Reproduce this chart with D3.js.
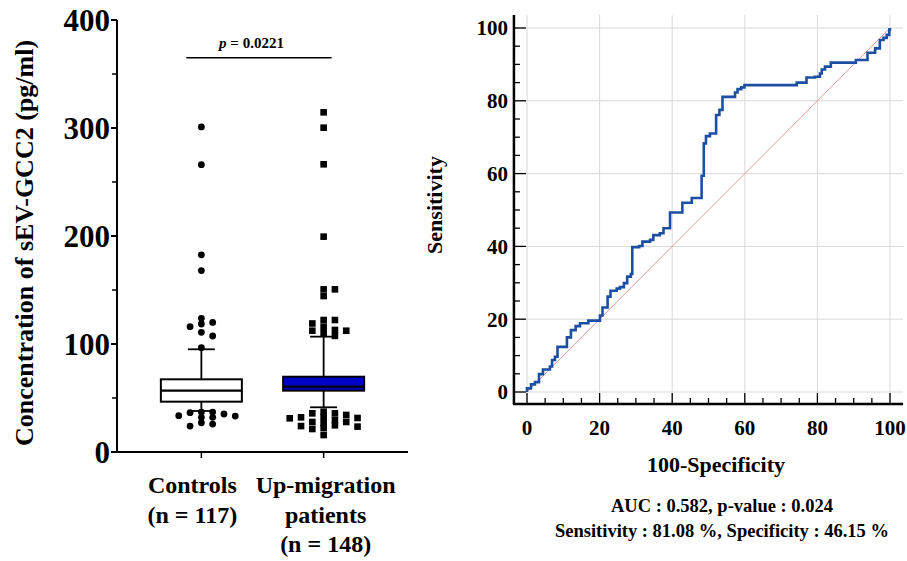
<!DOCTYPE html>
<html><head><meta charset="utf-8">
<script src="https://cdn.jsdelivr.net/npm/d3@7"></script>
<style>
html,body{margin:0;padding:0;background:#fff;}
svg text{font-family:"Liberation Serif","Times New Roman",serif;font-weight:bold;fill:#000;}
</style></head>
<body>
<svg id="chart" width="907" height="561"></svg>
<script>
// ---------- Box plot data ----------
const categories = ["Controls", "Up-migration patients"];
const categoryLines = [["Controls", "(n = 117)"], ["Up-migration", "patients", "(n = 148)"]];
const q1 = [46.6, 56.8];
const medians = [56.8, 60.5];
const q3 = [67.3, 69.7];
const whiskerLow = [38.0, 41.4];
const whiskerHigh = [95.1, 106.8];
const outliersControls = [301, 266, 182.6, 168, 123.8, 120, 118.5, 116, 110.8, 107.4, 96.6,
  37, 37, 36.4, 35.2, 33.6, 33.3, 32.1, 32.1, 27.1, 25.9, 24];
const outliersUp = [314.5, 300.3, 266.4, 199.4, 150.6, 150.6, 144.4, 122.2, 122.2, 119, 116, 113, 112.3, 112.3, 110, 107.5,
  37.3, 35.8, 35.8, 34.3, 32.4, 32.1, 31.5, 31.2, 29.6, 27.8, 27.8, 26.9, 24.7, 24, 23.5, 22.2, 21.3, 15.7];
const boxTicks = [0, 100, 200, 300, 400];
const boxMinorTicks = [50, 150, 250, 350];
const pText = "0.0221";

// ---------- ROC data ----------
const rocX = [0, 0, 1.1, 2.2, 3.3, 4.4, 6.3, 6.9, 7.7, 8.4, 11.0, 12.1, 13.4, 14.6, 16.9, 20.1, 20.8, 22.2, 23.0, 24.7, 25.6, 26.7, 27.6, 28.6,
  29.0, 30.9, 31.8, 33.9, 34.8, 36.6, 37.6, 39.4, 42.8, 45.4, 48.1, 48.7, 49.3, 50.4, 52.1, 53.0, 53.85, 57.3, 58.0, 59.0, 59.9,
  74.3, 77.0, 79.3, 80.7, 81.2, 82.1, 83.7, 90.6, 93.8, 95.9, 97.2, 98.2, 99.1, 99.8, 100];
const rocY = [0, 1.0, 2.1, 2.7, 4.9, 6.2, 7.0, 8.8, 9.7, 12.4, 15.0, 17.0, 18.1, 18.9, 19.6, 21.0, 23.2, 26.2, 27.8, 28.4, 28.8, 29.9, 31.7, 32.4,
  39.8, 40.1, 41.3, 41.8, 43.1, 43.6, 45.0, 49.3, 52.0, 53.3, 59.4, 68.3, 70.3, 71.0, 76.1, 77.5, 81.08, 82.3, 83.2, 83.7, 84.3,
  85.0, 86.4, 86.6, 87.5, 88.6, 89.4, 90.5, 91.2, 93.2, 94.4, 96.7, 97.3, 98.1, 99.6, 100];
const rocTicks = [0, 20, 40, 60, 80, 100];
const rocMinorTicks = d3.range(0, 101, 5);
const statsLines = ["AUC : 0.582, p-value : 0.024", "Sensitivity : 81.08 %, Specificity : 46.15 %"];

const svg = d3.select("#chart");

// =============== LEFT: box plot ===============
const yB = d3.scaleLinear().domain([0, 400]).range([452, 20]);
const xB = d3.scalePoint().domain(categories).range([117, 408]).padding(0.69);
const L = svg.append("g");

// y axis
L.append("line").attr("x1", 117).attr("x2", 117).attr("y1", yB(400)).attr("y2", yB(0))
  .attr("stroke", "#000").attr("stroke-width", 2);
L.selectAll(".ymaj").data(boxTicks).join("line")
  .attr("x1", 111).attr("x2", 117).attr("y1", d => yB(d)).attr("y2", d => yB(d))
  .attr("stroke", "#000").attr("stroke-width", 2);
L.selectAll(".ymin").data(boxMinorTicks).join("line")
  .attr("x1", 112).attr("x2", 117).attr("y1", d => yB(d)).attr("y2", d => yB(d))
  .attr("stroke", "#000").attr("stroke-width", 1.5);
L.selectAll(".ylab").data(boxTicks).join("text")
  .attr("x", 110).attr("y", d => yB(d)).attr("dy", "0.35em")
  .attr("text-anchor", "end").style("font-size", "31px").text(d => d);
// y title
L.append("text").attr("transform", `translate(33,243) rotate(-90)`)
  .attr("text-anchor", "middle").style("font-size", "26px")
  .text("Concentration of sEV-GCC2 (pg/ml)");

// x axis
L.append("line").attr("x1", 116).attr("x2", 408).attr("y1", yB(0)).attr("y2", yB(0))
  .attr("stroke", "#000").attr("stroke-width", 2);
L.selectAll(".xt").data(categories).join("line")
  .attr("x1", d => xB(d)).attr("x2", d => xB(d)).attr("y1", yB(0)).attr("y2", yB(0) + 6)
  .attr("stroke", "#000").attr("stroke-width", 1.5);
const catOffset = [-9, 2];
categories.forEach((c, i) => {
  const t = L.append("text").attr("text-anchor", "middle").style("font-size", "24px");
  categoryLines[i].forEach((ln, j) => {
    t.append("tspan").attr("x", xB(c) + catOffset[i]).attr("y", 493 + j * 29.5).text(ln);
  });
});

// boxes
const boxW = 81, capW = 27;
const fills = ["#ffffff", "#0000c8"];
categories.forEach((c, i) => {
  const cx = xB(c);
  const g = L.append("g");
  g.append("line").attr("x1", cx).attr("x2", cx).attr("y1", yB(whiskerHigh[i])).attr("y2", yB(q3[i]))
    .attr("stroke", "#000").attr("stroke-width", 1.8);
  g.append("line").attr("x1", cx).attr("x2", cx).attr("y1", yB(q1[i])).attr("y2", yB(whiskerLow[i]))
    .attr("stroke", "#000").attr("stroke-width", 1.8);
  [whiskerHigh[i], whiskerLow[i]].forEach(v => {
    g.append("line").attr("x1", cx - capW / 2).attr("x2", cx + capW / 2).attr("y1", yB(v)).attr("y2", yB(v))
      .attr("stroke", "#000").attr("stroke-width", 1.8);
  });
  g.append("rect").attr("x", cx - boxW / 2).attr("width", boxW)
    .attr("y", yB(q3[i])).attr("height", yB(q1[i]) - yB(q3[i]))
    .attr("fill", fills[i]).attr("stroke", "#000").attr("stroke-width", 2);
  g.append("line").attr("x1", cx - boxW / 2).attr("x2", cx + boxW / 2).attr("y1", yB(medians[i])).attr("y2", yB(medians[i]))
    .attr("stroke", "#000").attr("stroke-width", 2.2);
});

// swarm layout for outliers
function swarm(values, cx) {
  const step = 5.65, tolX = 10, tolY = 5;
  const placed = [];
  values.slice().sort((a, b) => b - a).forEach(v => {
    const py = yB(v);
    for (let k = 0; k < 40; k++) {
      const off = k === 0 ? 0 : (k % 2 === 1 ? 1 : -1) * Math.ceil(k / 2) * step;
      const ok = placed.every(p => !(Math.abs(p.x - (cx + off)) < tolX && Math.abs(p.y - py) < tolY));
      if (ok) { placed.push({ x: cx + off, y: py }); break; }
    }
  });
  return placed;
}
const ptsC = swarm(outliersControls, xB(categories[0]));
L.selectAll(".oc").data(ptsC).join("circle")
  .attr("cx", d => d.x).attr("cy", d => d.y).attr("r", 3.4).attr("fill", "#000");
const ptsU = swarm(outliersUp, xB(categories[1]));
L.selectAll(".ou").data(ptsU).join("rect")
  .attr("x", d => d.x - 3.3).attr("y", d => d.y - 3.3).attr("width", 6.6).attr("height", 6.6).attr("fill", "#000");

// significance bracket
L.append("line").attr("x1", xB(categories[0]) - 15).attr("x2", xB(categories[1]) + 8)
  .attr("y1", yB(365)).attr("y2", yB(365)).attr("stroke", "#000").attr("stroke-width", 1.5);
const pt = L.append("text").attr("x", (xB(categories[0]) + xB(categories[1])) / 2 - 11).attr("y", yB(374))
  .attr("text-anchor", "middle").style("font-size", "15px");
pt.append("tspan").style("font-style", "italic").text("p");
pt.append("tspan").text(" = " + pText);

// =============== RIGHT: ROC ===============
const xR = d3.scaleLinear().domain([0, 100]).range([527, 890]);
const yR = d3.scaleLinear().domain([0, 100]).range([392, 28]);
const xLo = -3.6, xHi = 103.6, yLo = -3.3, yHi = 103.6;
const R = svg.append("g");

// grid
R.selectAll(".gx").data(rocTicks).join("line")
  .attr("x1", d => xR(d)).attr("x2", d => xR(d)).attr("y1", yR(yHi)).attr("y2", yR(yLo))
  .attr("stroke", "#d9d9d9").attr("stroke-width", 1);
R.selectAll(".gy").data(rocTicks).join("line")
  .attr("x1", xR(xLo)).attr("x2", xR(xHi)).attr("y1", d => yR(d)).attr("y2", d => yR(d))
  .attr("stroke", "#d9d9d9").attr("stroke-width", 1);

// diagonal
R.append("line").attr("x1", xR(0)).attr("y1", yR(0)).attr("x2", xR(100)).attr("y2", yR(100))
  .attr("stroke", "#e79a9a").attr("stroke-width", 1);

// ROC curve
const rocPts = rocX.map((x, i) => [x, rocY[i]]);
R.append("path").datum(rocPts)
  .attr("d", d3.line().x(d => xR(d[0])).y(d => yR(d[1])).curve(d3.curveStepAfter))
  .attr("fill", "none").attr("stroke", "#1a4fa3").attr("stroke-width", 2.6).attr("stroke-linejoin", "miter");

// axes
R.append("line").attr("x1", xR(xLo)).attr("x2", xR(xLo)).attr("y1", yR(yHi)).attr("y2", yR(yLo))
  .attr("stroke", "#000").attr("stroke-width", 2.5);
R.append("line").attr("x1", xR(xLo) - 1).attr("x2", xR(xHi)).attr("y1", yR(yLo)).attr("y2", yR(yLo))
  .attr("stroke", "#000").attr("stroke-width", 2.5);
R.selectAll(".mx").data(rocMinorTicks).join("line")
  .attr("x1", d => xR(d)).attr("x2", d => xR(d))
  .attr("y1", yR(yLo)).attr("y2", d => yR(yLo) - (d % 20 === 0 ? 11 : 6))
  .attr("stroke", "#000").attr("stroke-width", 1.3);
R.selectAll(".my").data(rocMinorTicks).join("line")
  .attr("x1", xR(xLo)).attr("x2", d => xR(xLo) + (d % 20 === 0 ? 12 : 6))
  .attr("y1", d => yR(d)).attr("y2", d => yR(d))
  .attr("stroke", "#000").attr("stroke-width", 1.3);
R.selectAll(".lx").data(rocTicks).join("text")
  .attr("x", d => xR(d)).attr("y", 435).attr("text-anchor", "middle").style("font-size", "21px").text(d => d);
R.selectAll(".ly").data(rocTicks).join("text")
  .attr("x", 508).attr("y", d => yR(d)).attr("dy", "0.35em").attr("text-anchor", "end").style("font-size", "21px").text(d => d);

R.append("text").attr("x", 716).attr("y", 472).attr("text-anchor", "middle").style("font-size", "22px").text("100-Specificity");
R.append("text").attr("transform", "translate(442,205) rotate(-90)").attr("text-anchor", "middle")
  .style("font-size", "22px").text("Sensitivity");
statsLines.forEach((s, i) => {
  R.append("text").attr("x", 722).attr("y", 512 + i * 25).attr("text-anchor", "middle").style("font-size", "18.5px").text(s);
});
</script>
</body></html>
